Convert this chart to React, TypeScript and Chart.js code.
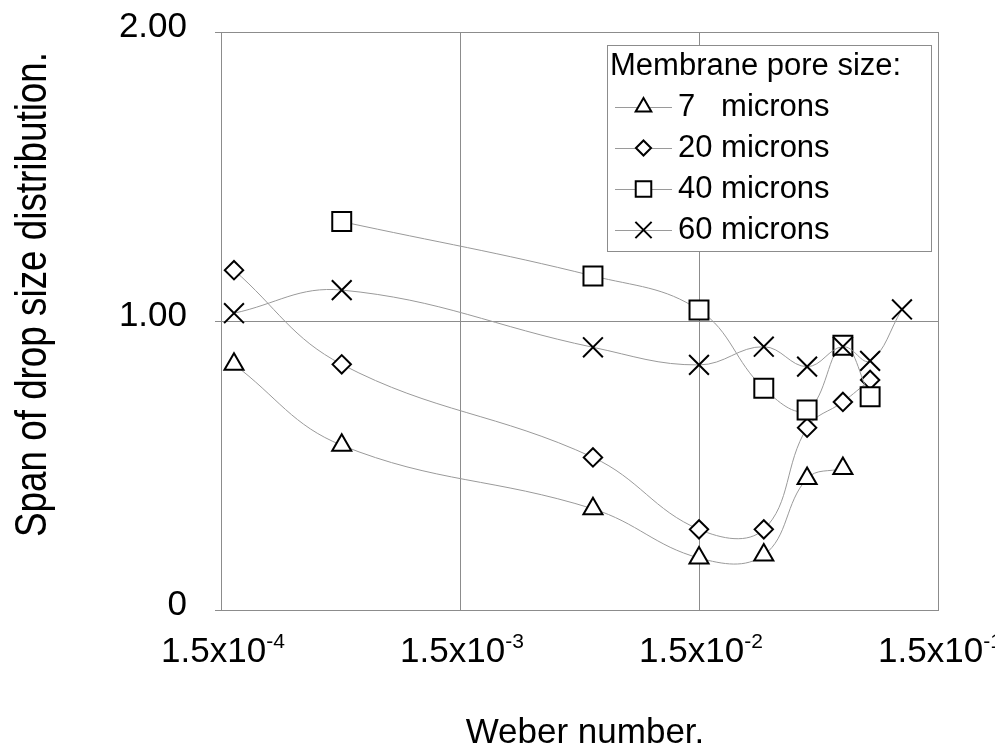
import React, { useEffect, useRef } from 'react';
import { Chart, registerables } from 'chart.js';
import { drawPoint } from 'chart.js/helpers';

Chart.register(...registerables);

// ---- data ----
const seriesNames = ['7   microns', '20 microns', '40 microns', '60 microns'];
const weber7 = [1.7e-4, 4.8e-4, 5.4e-3, 1.5e-2, 2.8e-2, 4.25e-2, 6.0e-2];
const span7 = [0.85, 0.57, 0.35, 0.18, 0.19, 0.455, 0.49];
const weber20 = [1.7e-4, 4.8e-4, 5.4e-3, 1.5e-2, 2.8e-2, 4.25e-2, 6.0e-2, 7.8e-2];
const span20 = [1.176, 0.85, 0.528, 0.279, 0.279, 0.631, 0.72, 0.796];
const weber40 = [4.8e-4, 5.4e-3, 1.5e-2, 2.8e-2, 4.25e-2, 6.0e-2, 7.8e-2];
const span40 = [1.344, 1.156, 1.038, 0.767, 0.692, 0.916, 0.738];
const weber60 = [1.7e-4, 4.8e-4, 5.4e-3, 1.5e-2, 2.8e-2, 4.25e-2, 6.0e-2, 7.8e-2, 1.06e-1];
const span60 = [1.027, 1.107, 0.909, 0.848, 0.911, 0.842, 0.911, 0.862, 1.04];

const xTickValues = [1.5e-4, 1.5e-3, 1.5e-2, 1.5e-1];
const xTickMantissa = '1.5x10';
const xTickExponents = ['-4', '-3', '-2', '-1'];
const yTickValues = [0, 1, 2];
const yTickLabels = ['0', '1.00', '2.00'];
const xTitle = 'Weber number.';
const yTitle = 'Span of drop size distribution.';
const legendTitle = 'Membrane pore size:';

// ---- styles ----
const FONT = "'Liberation Sans', Arial, sans-serif";
const GRID = '#8c8c8c';
const LINE = '#9a9a9a';
const pointStyles = ['triangle', 'rectRot', 'rect', 'crossRot'];
const pointRadii = [11, 9.2, 13.4, 14];

const overlayPlugin = {
  id: 'overlay',
  afterDraw(chart: any) {
    const ctx: CanvasRenderingContext2D = chart.ctx;
    const xs = chart.scales.x;
    const area = chart.chartArea;
    ctx.save();
    ctx.fillStyle = '#000';
    ctx.textBaseline = 'alphabetic';
    ctx.textAlign = 'left';

    // x tick labels with superscript exponents
    xTickValues.forEach((v, i) => {
      const px = xs.getPixelForValue(v);
      ctx.font = `35px ${FONT}`;
      const w1 = ctx.measureText(xTickMantissa).width;
      ctx.font = `21px ${FONT}`;
      const w2 = ctx.measureText(xTickExponents[i]).width;
      const left = px - (w1 + w2) / 2 + 2;
      ctx.font = `35px ${FONT}`;
      ctx.fillText(xTickMantissa, left, area.bottom + 52);
      ctx.font = `21px ${FONT}`;
      ctx.fillText(xTickExponents[i], left + w1, area.bottom + 38);
    });

    // x axis title
    ctx.font = `35px ${FONT}`;
    ctx.textAlign = 'center';
    ctx.fillText(xTitle, 585, 743);

    // y axis title (rotated, condensed)
    ctx.save();
    ctx.font = `45px ${FONT}`;
    const tw = ctx.measureText(yTitle).width;
    const sx = 485 / tw;
    ctx.translate(46, 294.5);
    ctx.rotate(-Math.PI / 2);
    ctx.scale(sx, 1);
    ctx.textAlign = 'center';
    ctx.fillText(yTitle, 0, 0);
    ctx.restore();

    // legend
    const lx = 607, ly = 45, lw = 324, lh = 206;
    ctx.fillStyle = '#fff';
    ctx.fillRect(lx, ly, lw, lh);
    ctx.strokeStyle = GRID;
    ctx.lineWidth = 1;
    ctx.strokeRect(lx + 0.5, ly + 0.5, lw, lh);
    ctx.fillStyle = '#000';
    ctx.textAlign = 'left';
    ctx.font = `31px ${FONT}`;
    ctx.fillText(legendTitle, 610, 75);
    seriesNames.forEach((name, i) => {
      const base = 116 + i * 41;
      const cy = base - 9;
      ctx.strokeStyle = LINE;
      ctx.lineWidth = 1;
      ctx.beginPath();
      ctx.moveTo(615, cy + 0.5);
      ctx.lineTo(672, cy + 0.5);
      ctx.stroke();
      ctx.fillStyle = '#fff';
      ctx.strokeStyle = '#000';
      ctx.lineWidth = 2;
      drawPoint(ctx, { pointStyle: pointStyles[i], radius: pointRadii[i] * 0.82, rotation: 0, borderWidth: 2 } as any, 643.5, cy);
      ctx.fillStyle = '#000';
      ctx.font = `31px ${FONT}`;
      ctx.fillText(name, 678, base);
    });
    ctx.restore();
  },
};

export default function App() {
  const ref = useRef<HTMLCanvasElement>(null);
  useEffect(() => {
    const canvas = ref.current!;
    const mk = (i: number, xs: number[], ys: number[]) => ({
      label: seriesNames[i],
      data: xs.map((x, k) => ({ x, y: ys[k] })),
      borderColor: LINE,
      borderWidth: 1,
      pointStyle: pointStyles[i],
      pointRadius: pointRadii[i],
      pointHoverRadius: pointRadii[i],
      pointBackgroundColor: '#fff',
      pointBorderColor: '#000',
      pointBorderWidth: 2,
      tension: 0.4,
      fill: false,
      order: 3 - i,
    });
    const chart = new Chart(canvas, {
      type: 'line',
      data: {
        datasets: [
          mk(0, weber7, span7),
          mk(1, weber20, span20),
          mk(2, weber40, span40),
          mk(3, weber60, span60),
        ] as any,
      },
      options: {
        responsive: false,
        animation: false,
        events: [],
        layout: { padding: { left: 0, top: 32, right: 57, bottom: 0 } },
        plugins: { legend: { display: false }, tooltip: { enabled: false }, title: { display: false } },
        scales: {
          x: {
            type: 'logarithmic',
            min: 1.5e-4,
            max: 1.5e-1,
            afterBuildTicks: (s: any) => { s.ticks = xTickValues.map((v) => ({ value: v })); },
            ticks: { display: false },
            grid: { color: GRID, lineWidth: 1, drawTicks: false },
            border: { color: GRID, width: 1 },
            afterFit: (s: any) => { s.height = 144; s.paddingLeft = 0; s.paddingRight = 0; },
          },
          y: {
            type: 'linear',
            min: 0,
            max: 2,
            afterBuildTicks: (s: any) => { s.ticks = yTickValues.map((v) => ({ value: v })); },
            ticks: {
              callback: (_v: any, idx: number) => yTickLabels[idx],
              font: { family: FONT, size: 35 },
              color: '#000',
              padding: 28,
              labelOffset: -5,
            },
            grid: { color: GRID, lineWidth: 1, drawTicks: true, tickLength: 6 },
            border: { color: GRID, width: 1 },
            afterFit: (s: any) => { s.width = 221; s.paddingTop = 0; s.paddingBottom = 0; },
          },
        },
      } as any,
      plugins: [overlayPlugin],
    });
    return () => chart.destroy();
  }, []);
  return (
    <div style={{ position: 'fixed', left: 0, top: 0, width: 995, height: 754, background: '#fff' }}>
      <canvas ref={ref} width={995} height={754} style={{ display: 'block', width: 995, height: 754 }} />
    </div>
  );
}
